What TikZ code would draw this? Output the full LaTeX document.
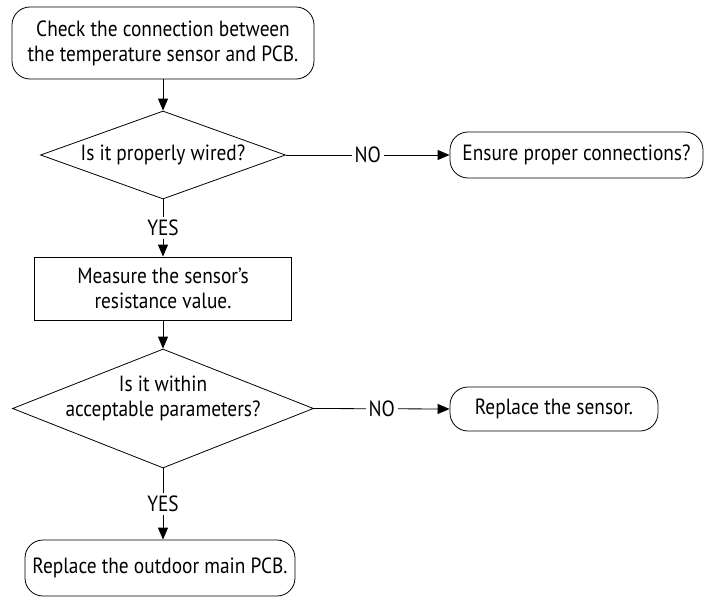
\documentclass[tikz,border=0pt]{standalone}
\usepackage{fontspec}
\setmainfont[FakeStretch=0.88]{PT Sans}
\usetikzlibrary{positioning,arrows.meta,shapes.geometric}

\begin{document}
\begin{tikzpicture}[>={Triangle[length=12pt,width=10pt]},x=1pt,y=-1pt,line width=0.8pt,
  font=\fontsize{22}{25}\selectfont,
  term/.style={draw,rounded corners=18pt,align=center,inner sep=0pt},
  proc/.style={draw,align=center,inner sep=0pt},
  decision/.style={draw,diamond,inner sep=0pt,aspect=2.6},
  lbl/.style={fill=white,inner sep=3pt}]
  \useasboundingbox (0,0) rectangle (705,597);
  % start
  \node[term,minimum width=302pt,minimum height=72pt] (check) at (163,43)
    {Check the connection between\\the temperature sensor and PCB.};
  % first question
  \node[decision,minimum width=245pt,minimum height=88pt] (wired) at (163,155)
    {Is it properly wired?};
  \node[term,minimum width=253pt,minimum height=46pt] (ensure) at (576.5,155)
    {Ensure proper connections?};
  % measurement
  \node[proc,minimum width=257pt,minimum height=63pt] (measure) at (163,288.5)
    {Measure the sensor's\\resistance value.};
  % second question
  \node[decision,minimum width=301pt,minimum height=119pt] (range) at (163,408.5) {};
  \node[align=center] (rangetxt) at (163,398) {Is it within\\acceptable parameters?};
  \node[term,minimum width=208pt,minimum height=44pt] (sensor) at (554,409)
    {Replace the sensor.};
  % end
  \node[term,minimum width=270pt,minimum height=56pt] (pcb) at (160,568)
    {Replace the outdoor main PCB.};
  % connectors
  \draw[->] (check.south) -- (wired.north);
  \draw[->] (wired.east) -- node[lbl]{NO} (ensure.west);
  \draw[->] (wired.south) -- node[lbl]{YES} (measure.north);
  \draw[->] (measure.south) -- (range.north);
  \draw[->] (range.east) -- node[lbl]{NO} (sensor.west);
  \draw[->] (range.south) -- node[lbl]{YES} (range.south |- pcb.north);
\end{tikzpicture}
\end{document}
